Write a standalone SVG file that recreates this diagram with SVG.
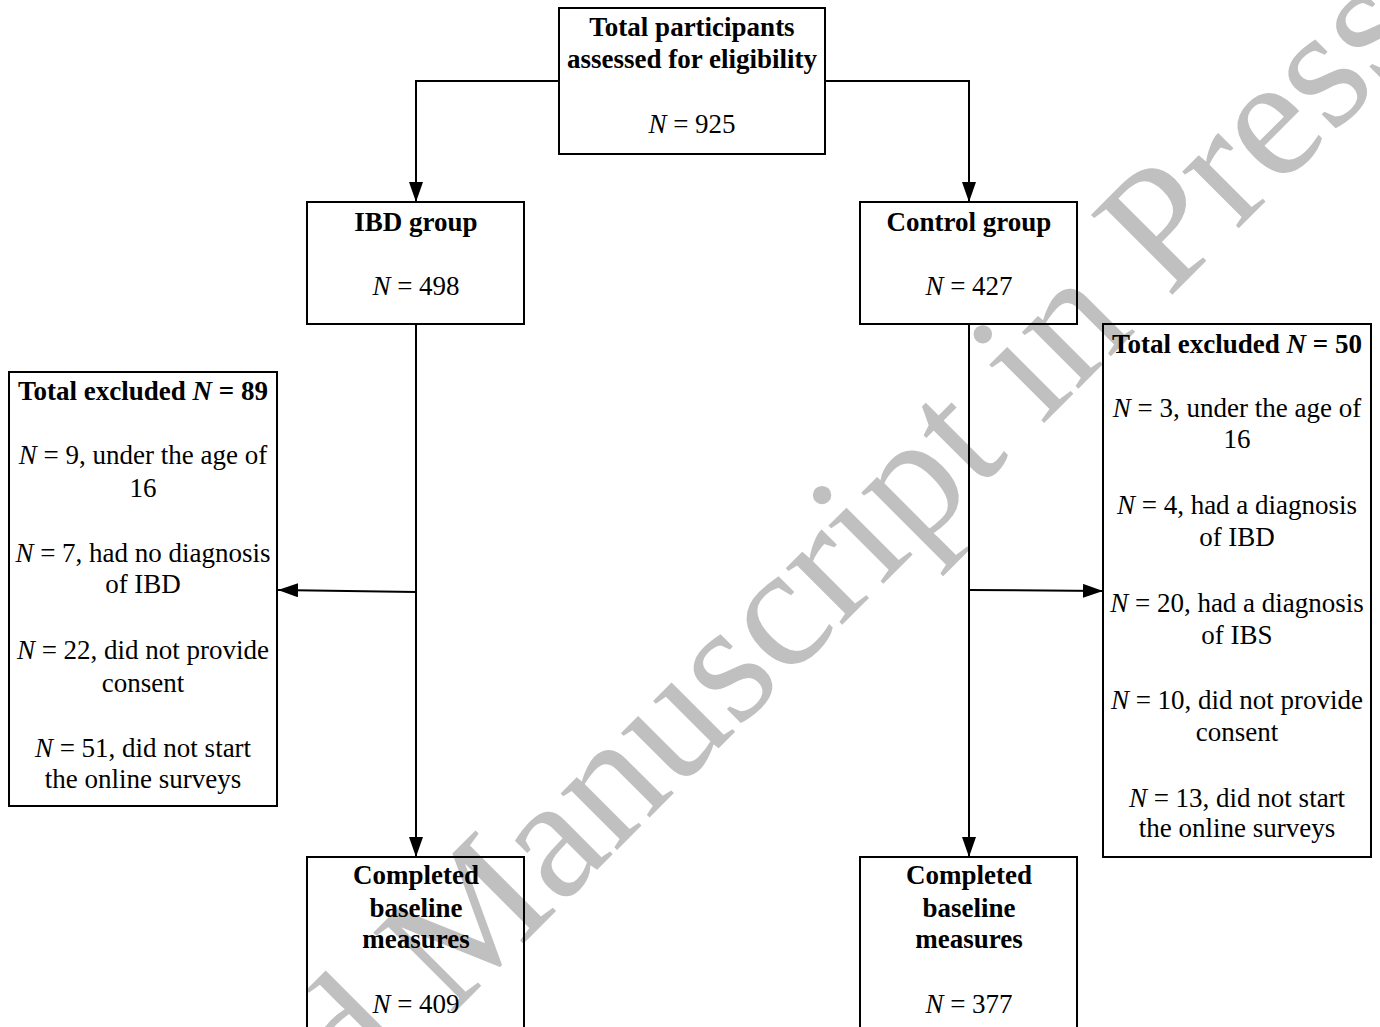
<svg xmlns="http://www.w3.org/2000/svg" width="1380" height="1027" viewBox="0 0 1380 1027">
<style>
.box{fill:none;stroke:#000;stroke-width:2}
.t{font-family:"Liberation Serif","Times New Roman",serif;font-size:27px;fill:#000;text-anchor:middle}
.b{font-weight:bold}
.i{font-style:italic}
.ln{fill:none;stroke:#000;stroke-width:2}
.wm{font-family:"Liberation Serif","Times New Roman",serif;font-size:174px;fill:#c0c0c0}
</style>
<defs>
<marker id="ah" markerUnits="userSpaceOnUse" markerWidth="22" markerHeight="16" refX="20" refY="7" orient="auto">
<path d="M0,0 L20,7 L0,14 Z" fill="#000"/>
</marker>
</defs>
<rect width="1380" height="1027" fill="#fff"/>
<text class="wm" transform="translate(-45,1512) rotate(-45)">Accepted Manuscript in Press</text>
<g id="connectors">
<path class="ln" d="M559,81 H416 V202" marker-end="url(#ah)"/>
<path class="ln" d="M825,81 H969 V202" marker-end="url(#ah)"/>
<path class="ln" d="M416,324 V857" marker-end="url(#ah)"/>
<path class="ln" d="M969,324 V857" marker-end="url(#ah)"/>
<path class="ln" d="M416,592 L278,590" marker-end="url(#ah)"/>
<path class="ln" d="M969,590 L1103,591" marker-end="url(#ah)"/>
</g>
<g id="total">
<rect class="box" x="559" y="8" width="266" height="146"/>
<text class="t b" x="692" y="36">Total participants</text>
<text class="t b" x="692" y="68">assessed for eligibility</text>
<text class="t" x="692" y="133"><tspan class="i">N</tspan> = 925</text>
</g>
<g id="ibd">
<rect class="box" x="307" y="202" width="217" height="122"/>
<text class="t b" x="416" y="231">IBD group</text>
<text class="t" x="416" y="295"><tspan class="i">N</tspan> = 498</text>
</g>
<g id="control">
<rect class="box" x="860" y="202" width="217" height="122"/>
<text class="t b" x="969" y="231">Control group</text>
<text class="t" x="969" y="295"><tspan class="i">N</tspan> = 427</text>
</g>
<g id="excl-ibd">
<rect class="box" x="9" y="372" width="268" height="434"/>
<text class="t b" x="143" y="400">Total excluded <tspan class="i">N</tspan> = 89</text>
<text class="t" x="143" y="464"><tspan class="i">N</tspan> = 9, under the age of</text>
<text class="t" x="143" y="497">16</text>
<text class="t" x="143" y="562"><tspan class="i">N</tspan> = 7, had no diagnosis</text>
<text class="t" x="143" y="593">of IBD</text>
<text class="t" x="143" y="659"><tspan class="i">N</tspan> = 22, did not provide</text>
<text class="t" x="143" y="692">consent</text>
<text class="t" x="143" y="757"><tspan class="i">N</tspan> = 51, did not start</text>
<text class="t" x="143" y="788">the online surveys</text>
</g>
<g id="excl-control">
<rect class="box" x="1103" y="324" width="268" height="533"/>
<text class="t b" x="1237" y="353">Total excluded <tspan class="i">N</tspan> = 50</text>
<text class="t" x="1237" y="417"><tspan class="i">N</tspan> = 3, under the age of</text>
<text class="t" x="1237" y="448">16</text>
<text class="t" x="1237" y="514"><tspan class="i">N</tspan> = 4, had a diagnosis</text>
<text class="t" x="1237" y="546">of IBD</text>
<text class="t" x="1237" y="612"><tspan class="i">N</tspan> = 20, had a diagnosis</text>
<text class="t" x="1237" y="644">of IBS</text>
<text class="t" x="1237" y="709"><tspan class="i">N</tspan> = 10, did not provide</text>
<text class="t" x="1237" y="741">consent</text>
<text class="t" x="1237" y="807"><tspan class="i">N</tspan> = 13, did not start</text>
<text class="t" x="1237" y="837">the online surveys</text>
</g>
<g id="completed-ibd">
<rect class="box" x="307" y="857" width="217" height="180"/>
<text class="t b" x="416" y="884">Completed</text>
<text class="t b" x="416" y="917">baseline</text>
<text class="t b" x="416" y="948">measures</text>
<text class="t" x="416" y="1013"><tspan class="i">N</tspan> = 409</text>
</g>
<g id="completed-control">
<rect class="box" x="860" y="857" width="217" height="180"/>
<text class="t b" x="969" y="884">Completed</text>
<text class="t b" x="969" y="917">baseline</text>
<text class="t b" x="969" y="948">measures</text>
<text class="t" x="969" y="1013"><tspan class="i">N</tspan> = 377</text>
</g>
</svg>
